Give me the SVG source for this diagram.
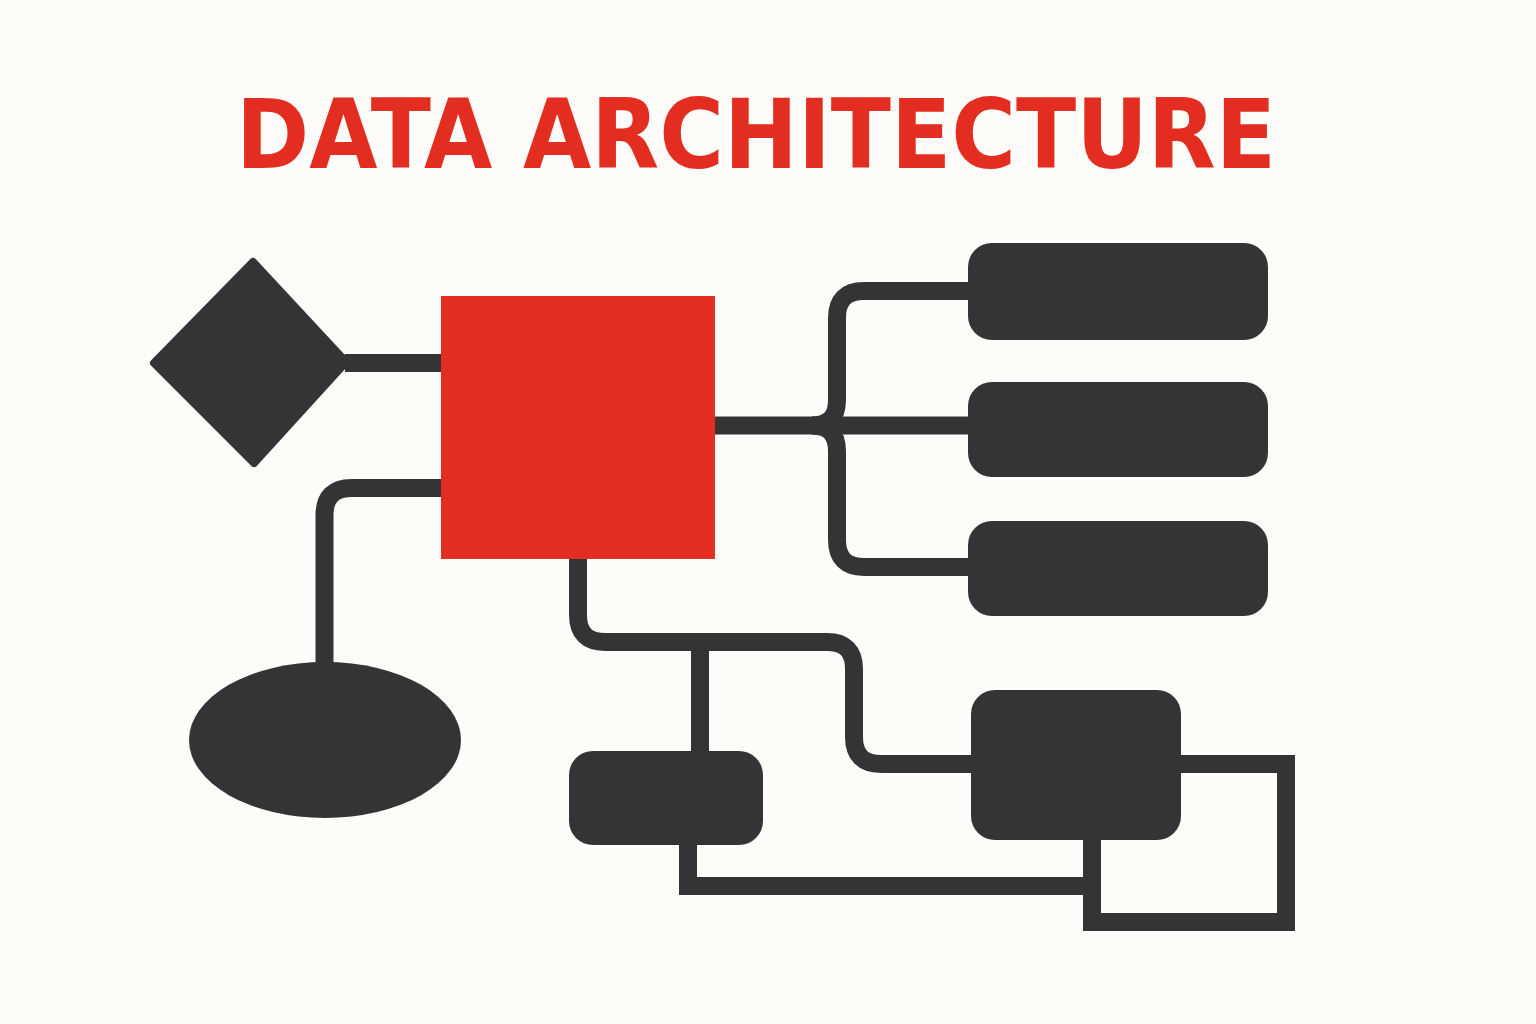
<svg xmlns="http://www.w3.org/2000/svg" width="1536" height="1024" viewBox="0 0 1536 1024">
<style>
.bg{fill:#FDFCF8}
.node{fill:#333436}
.red{fill:#E32D20}
.wire{fill:none;stroke:#333436;stroke-width:18}
.title{font-family:"DejaVu Sans","Liberation Sans",sans-serif;font-weight:bold;font-size:96px;fill:#E32D20}
</style>
<rect class="bg" x="0" y="0" width="1536" height="1024"/>
<text class="title" x="236" y="168" textLength="1040" lengthAdjust="spacingAndGlyphs">DATA ARCHITECTURE</text>
<g id="connectors">
<path class="wire" d="M345,363 H445"/>
<path class="wire" d="M441,488 H352 Q324.5,488 324.5,515 V668"/>
<path class="wire" d="M711,425.5 H972"/>
<path class="wire" d="M812,425.5 Q837,425.5 837,400 V318 Q837,291 864,291 H972"/>
<path class="wire" d="M812,425.5 Q837,425.5 837,451 V540 Q837,567 864,567 H972"/>
<path class="wire" d="M578,555 V615 Q578,642 605,642 H827 Q854,642 854,669 V737 Q854,764 881,764 H975"/>
<path class="wire" d="M700,642 V755"/>
<path class="wire" d="M1177,764 H1286 V922 H1092 V836"/>
<path class="wire" d="M688,841 V886 H1092"/>
</g>
<g id="diamond">
<path class="node" d="M253,262 L346,362 L254,463 L154,363 Z" stroke="#333436" stroke-width="8" stroke-linejoin="round"/>
</g>
<g id="core">
<rect class="red" x="441" y="296" width="274" height="263"/>
</g>
<g id="ellipse">
<ellipse class="node" cx="325" cy="740" rx="136" ry="78"/>
</g>
<g id="box-top">
<rect class="node" x="968" y="243" width="300" height="97" rx="24"/>
</g>
<g id="box-mid">
<rect class="node" x="968" y="382" width="300" height="95" rx="24"/>
</g>
<g id="box-low">
<rect class="node" x="968" y="521" width="300" height="95" rx="24"/>
</g>
<g id="box-small">
<rect class="node" x="569" y="751" width="194" height="94" rx="24"/>
</g>
<g id="box-square">
<rect class="node" x="971" y="690" width="210" height="150" rx="24"/>
</g>
</svg>
